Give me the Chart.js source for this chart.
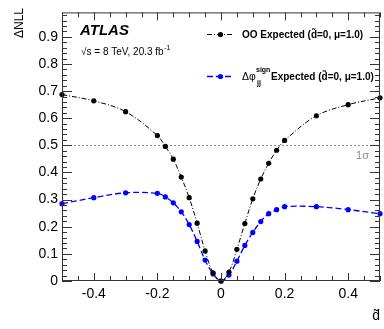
<!DOCTYPE html>
<html>
<head>
<meta charset="utf-8">
<script src="https://cdn.jsdelivr.net/npm/chart.js@4/dist/chart.umd.min.js"></script>
<style>
  html, body { margin: 0; padding: 0; background: #fff; }
  #wrap { width: 384px; height: 329px; position: relative; }
</style>
</head>
<body>
<div id="wrap"><canvas id="nll"></canvas></div>
<script>
// -------------------------------
// DATA
// -------------------------------
const dTilde = [-0.5, -0.4, -0.3, -0.2, -0.175, -0.15, -0.125, -0.1, -0.075, -0.05, -0.025, 0,
                0.025, 0.05, 0.075, 0.1, 0.125, 0.15, 0.175, 0.2, 0.3, 0.4, 0.5];
const nllOO = [0.687, 0.664, 0.624, 0.536, 0.496, 0.449, 0.383, 0.307, 0.213, 0.111, 0.030, 0,
               0.033, 0.117, 0.212, 0.303, 0.376, 0.434, 0.482, 0.518, 0.609, 0.650, 0.675];
const nllDphi = [0.285, 0.307, 0.325, 0.323, 0.310, 0.288, 0.255, 0.208, 0.146, 0.077, 0.026, 0,
                 0.022, 0.073, 0.131, 0.179, 0.219, 0.248, 0.263, 0.274, 0.274, 0.263, 0.248];
const xTicks = [-0.4, -0.2, 0, 0.2, 0.4];
const yTicks = [0, 0.1, 0.2, 0.3, 0.4, 0.5, 0.6, 0.7, 0.8, 0.9];
const oneSigma = 0.5;

const FONT = '"Liberation Sans", Arial, sans-serif';

const toPoints = ys => dTilde.map((x, i) => ({ x: x, y: ys[i] }));

// frame, inside ticks, 1 sigma line and all the text annotations
const atlasDecor = {
  id: 'atlasDecor',
  beforeDatasetsDraw(chart) {
    const { ctx, chartArea: a, scales: { y } } = chart;
    const ys = y.getPixelForValue(oneSigma);
    ctx.save();
    ctx.strokeStyle = '#8c8c8c';
    ctx.lineWidth = 1;
    ctx.setLineDash([2, 2]);
    ctx.beginPath();
    ctx.moveTo(a.left, Math.round(ys) + 0.5);
    ctx.lineTo(a.right, Math.round(ys) + 0.5);
    ctx.stroke();
    ctx.setLineDash([]);
    ctx.fillStyle = '#8c8c8c';
    ctx.font = '11px ' + FONT;
    ctx.textAlign = 'right';
    ctx.textBaseline = 'alphabetic';
    ctx.fillText('1σ', a.right - 11, ys + 14);
    ctx.restore();
  },
  afterDatasetsDraw(chart) {
    const { ctx, chartArea: a, scales: { x, y } } = chart;
    ctx.save();
    ctx.strokeStyle = '#333';
    ctx.lineWidth = 1;
    ctx.strokeRect(a.left + 0.5, a.top + 0.5, a.right - a.left - 1, a.bottom - a.top - 1);

    ctx.beginPath();
    // x ticks every 0.05, long ones on the labelled values
    for (let k = -10; k <= 10; k++) {
      const v = k * 0.05;
      const px = Math.round(x.getPixelForValue(v)) + 0.5;
      const big = xTicks.some(t => Math.abs(t - v) < 1e-6);
      const len = big ? 8 : 5;
      ctx.moveTo(px, a.bottom); ctx.lineTo(px, a.bottom - len);
      ctx.moveTo(px, a.top); ctx.lineTo(px, a.top + len);
    }
    // y ticks every 0.02
    for (let k = 0; k <= 49; k++) {
      const v = k * 0.02;
      const py = Math.round(y.getPixelForValue(v)) + 0.5;
      const big = k % 5 === 0;
      const len = big ? 10 : 5;
      ctx.moveTo(a.left, py); ctx.lineTo(a.left + len, py);
      ctx.moveTo(a.right, py); ctx.lineTo(a.right - len, py);
    }
    ctx.stroke();

    // axis titles
    ctx.fillStyle = '#000';
    ctx.font = '12px ' + FONT;
    ctx.save();
    ctx.translate(23, 8);
    ctx.rotate(-Math.PI / 2);
    ctx.textAlign = 'right';
    ctx.fillText('ΔNLL', 0, 0);
    ctx.restore();
    ctx.font = '14px ' + FONT;
    ctx.textAlign = 'right';
    ctx.fillText('d\u0303', 380, 320);

    // experiment label
    ctx.textAlign = 'left';
    ctx.font = 'italic bold 15px ' + FONT;
    ctx.fillText('ATLAS', 80, 35);
    ctx.font = '10px ' + FONT;
    const txt = '√s = 8 TeV, 20.3 fb';
    ctx.fillText(txt, 81, 55);
    const w = ctx.measureText(txt).width;
    ctx.font = '7px ' + FONT;
    ctx.fillText('-1', 81 + w + 0.5, 50);

    // legend
    const rows = [
      { ds: chart.data.datasets[0], y: 34 },
      { ds: chart.data.datasets[1], y: 76 }
    ];
    rows.forEach(r => {
      ctx.strokeStyle = r.ds.borderColor;
      ctx.lineWidth = r.ds.borderWidth;
      ctx.setLineDash(r.ds.borderDash);
      ctx.beginPath();
      ctx.moveTo(207, r.y + 0.5); ctx.lineTo(234, r.y + 0.5);
      ctx.stroke();
      ctx.setLineDash([]);
      ctx.fillStyle = r.ds.pointBackgroundColor;
      ctx.beginPath();
      ctx.arc(220.5, r.y + 0.5, 2.6, 0, Math.PI * 2);
      ctx.fill();
    });
    ctx.fillStyle = '#000';
    ctx.textBaseline = 'middle';
    ctx.font = 'bold 10px ' + FONT;
    ctx.fillText('OO Expected (d\u0303=0, μ=1.0)', 242, 35);

    ctx.font = '10.5px ' + FONT;
    ctx.fillText('Δφ', 242, 77);
    ctx.font = 'bold 7px ' + FONT;
    ctx.fillText('sign', 256, 70);
    ctx.fillText('jj', 257, 83);
    ctx.font = 'bold 10px ' + FONT;
    ctx.fillText('Expected (d\u0303=0, μ=1.0)', 271, 77);
    ctx.restore();
  }
};

new Chart(document.getElementById('nll'), {
  type: 'scatter',
  data: {
    datasets: [
      {
        label: 'OO Expected',
        data: toPoints(nllOO),
        showLine: true,
        borderColor: '#000',
        borderWidth: 1,
        borderDash: [5, 2, 1, 2],
        pointBackgroundColor: '#000',
        pointBorderWidth: 0,
        pointRadius: 2.6,
        tension: 0.35,
        clip: false
      },
      {
        label: 'Δφjj sign Expected',
        data: toPoints(nllDphi),
        showLine: true,
        borderColor: '#0000ff',
        borderWidth: 1.3,
        borderDash: [6, 3],
        pointBackgroundColor: '#0000ff',
        pointBorderWidth: 0,
        pointRadius: 2.6,
        tension: 0.35,
        clip: false
      }
    ]
  },
  options: {
    responsive: true,
    maintainAspectRatio: false,
    animation: false,
    layout: { padding: { top: 10, right: 1, left: 0, bottom: 0 } },
    plugins: {
      legend: { display: false },
      tooltip: { enabled: false }
    },
    scales: {
      x: {
        type: 'linear',
        min: -0.5,
        max: 0.5,
        afterBuildTicks: s => { s.ticks = xTicks.map(v => ({ value: v })); },
        afterFit: s => { s.height = 48; },
        grid: { display: false, drawTicks: false },
        border: { display: false },
        ticks: {
          padding: 5,
          color: '#000',
          font: { family: FONT, size: 14 },
          callback: v => v === 0 ? '0' : v.toFixed(1)
        }
      },
      y: {
        type: 'linear',
        min: 0,
        max: 0.99,
        afterBuildTicks: s => { s.ticks = yTicks.map(v => ({ value: v })); },
        afterFit: s => { s.width = 62; },
        grid: { display: false, drawTicks: false },
        border: { display: false },
        ticks: {
          padding: 4,
          color: '#000',
          font: { family: FONT, size: 14 },
          callback: v => v === 0 ? '0' : v.toFixed(1)
        }
      }
    }
  },
  plugins: [atlasDecor]
});
</script>
</body>
</html>
